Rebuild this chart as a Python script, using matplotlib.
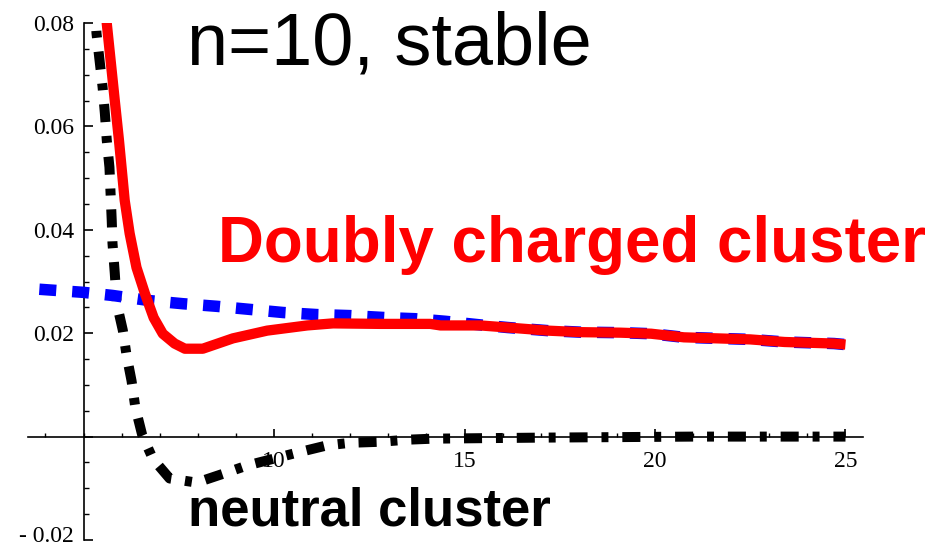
import matplotlib
matplotlib.use("Agg")
import matplotlib.pyplot as plt
from matplotlib.ticker import FixedLocator, FixedFormatter
from matplotlib.transforms import offset_copy

plt.rcParams["lines.scale_dashes"] = False

# Doubly charged cluster (solid red)
red_x = [5.58, 5.61, 5.71, 5.82, 5.93, 6.03, 6.08, 6.21, 6.39, 6.61, 6.84, 7.08,
         7.39, 7.66, 8.13, 8.92, 9.82, 10.87, 11.55, 12.79, 14.1, 14.37, 15.42,
         16.13, 17.18, 18.05, 19.1, 19.9, 20.76, 22.5, 23.4, 24.7, 25.0]
red_y = [0.0850, 0.0799, 0.0728, 0.0650, 0.0573, 0.0496, 0.0457, 0.0393, 0.0327,
         0.0277, 0.0230, 0.0199, 0.0180, 0.0170, 0.0170, 0.0190, 0.0205, 0.0215,
         0.0219, 0.0218, 0.0218, 0.0215, 0.0215, 0.0211, 0.0205, 0.0202, 0.0201,
         0.0199, 0.0192, 0.0188, 0.0183, 0.0180, 0.0178]

# Reference curve (dashed blue)
blue_x = [3.84, 5.0, 5.76, 6.74, 7.61, 8.5, 9.37, 10.24, 11.13, 12.0, 12.97,
          13.7, 14.5, 15.42, 16.13, 17.18, 18.05, 19.1, 19.9, 20.76, 22.5, 23.4,
          24.7, 25.0]
blue_y = [0.0285, 0.0279, 0.0273, 0.0263, 0.0257, 0.0252, 0.0246, 0.0240, 0.0236,
          0.0234, 0.0230, 0.0228, 0.0223, 0.0216, 0.0211, 0.0205, 0.0202, 0.0201,
          0.0199, 0.0192, 0.0188, 0.0183, 0.0180, 0.0178]

# Neutral cluster (dash-dot black)
black_x = [5.28, 5.34, 5.42, 5.5, 5.56, 5.61, 5.68, 5.74, 5.76, 5.82, 5.87, 6.03,
           6.13, 6.26, 6.36, 6.54, 6.82, 7.26, 7.97, 8.66, 9.29, 10.61, 11.39,
           12.0, 12.79, 13.5, 14.18, 15.5, 17.0, 19.0, 21.0, 25.0]
black_y = [0.0850, 0.0780, 0.0728, 0.0676, 0.0625, 0.0573, 0.0521, 0.0418, 0.0374,
           0.0316, 0.0258, 0.0206, 0.0157, 0.0108, 0.0056, 0.0003, -0.0043,
           -0.0081, -0.0089, -0.0072, -0.0056, -0.0031, -0.0017, -0.0012, -0.0010,
           -0.0006, -0.0004, -0.0003, -0.0002, -0.0001, 0.0, 0.0]

x_major = [10, 15, 20, 25]
x_labels = ["10", "15", "20", "25"]
y_major = [-0.02, 0.0, 0.02, 0.04, 0.06, 0.08]
y_labels = ["", "", "0.02", "0.04", "0.06", "0.08"]
y_bottom_label = "- 0.02"

W, H = 933, 548
fig = plt.figure(figsize=(W / 100, H / 100), dpi=100)
ax = fig.add_axes([28.3 / W, 8 / H, (863 - 28.3) / W, 517 / H])
ax.set_xlim(3.55, 25.46)
ax.set_ylim(-0.02, 0.08)
ax.patch.set_visible(False)

for s in ("top", "right"):
    ax.spines[s].set_visible(False)
ax.spines["left"].set_position(("data", 5))
ax.spines["left"].set_bounds(-0.02, 0.08)
ax.spines["bottom"].set_position(("data", 0))
for s in ("left", "bottom"):
    ax.spines[s].set_linewidth(1.2)
    ax.spines[s].set_zorder(1)

ax.xaxis.set_major_locator(FixedLocator(x_major))
ax.xaxis.set_major_formatter(FixedFormatter(x_labels))
ax.xaxis.set_minor_locator(FixedLocator([v for v in range(4, 26) if v not in x_major]))
ax.yaxis.set_major_locator(FixedLocator(y_major))
ax.yaxis.set_major_formatter(FixedFormatter(y_labels))
ax.yaxis.set_minor_locator(FixedLocator([-0.015, -0.01, -0.005, 0.005, 0.01, 0.015,
                                          0.025, 0.03, 0.035, 0.045, 0.05, 0.055,
                                          0.065, 0.07, 0.075]))

ax.tick_params(axis="x", which="major", direction="in", length=6, width=1.2, pad=10.5,
               labelsize=17)
ax.tick_params(axis="x", which="minor", direction="in", length=3, width=1.0)
ax.tick_params(axis="y", which="major", direction="in", length=6.5, width=1.2, pad=7,
               labelsize=17)
ax.tick_params(axis="y", which="minor", direction="in", length=3.5, width=1.0)
for lab in ax.get_xticklabels() + ax.get_yticklabels():
    lab.set_fontfamily("Liberation Serif")

# lowest y label, nudged up so it stays inside the canvas
ax.text(5, -0.02, y_bottom_label, family="Liberation Serif", fontsize=17,
        ha="right", va="center", clip_on=False,
        transform=offset_copy(ax.transData, fig=fig, x=-10, y=4, units="dots"))

black, = ax.plot(black_x, black_y, color="black", lw=7.2, zorder=3)
black.set_dashes([13, 10, 5, 10])
black.set_dash_capstyle("butt")

blue, = ax.plot(blue_x, blue_y, color="#0000ff", lw=8.3, zorder=4)
blue.set_dashes([12.2, 11.5])
blue.set_dash_capstyle("butt")

ax.plot(red_x, red_y, color="#ff0000", lw=7.4, zorder=5, solid_capstyle="butt",
        solid_joinstyle="round")

fig.text(187 / W, 1 - 65 / H, "n=10, stable", family="Liberation Sans",
         fontsize=53.2, color="black", va="baseline", ha="left")
fig.text(218 / W, 1 - 262 / H, "Doubly charged cluster", family="Liberation Sans",
         fontweight="bold", fontsize=45.8, color="#ff0000", va="baseline", ha="left")
fig.text(188 / W, 1 - 525 / H, "neutral cluster", family="Liberation Sans",
         fontweight="bold", fontsize=38, color="black", va="baseline", ha="left")

fig.savefig("out.png", dpi=100)
